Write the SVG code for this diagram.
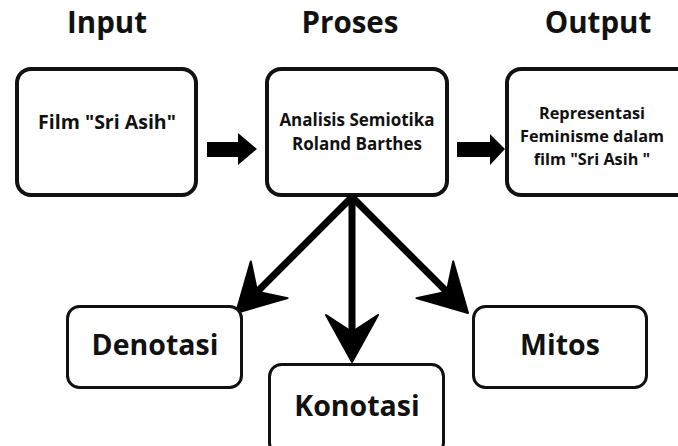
<svg xmlns="http://www.w3.org/2000/svg" width="678" height="446" viewBox="0 0 678 446">
<defs>
<style>
.title{font-family:"Open Sans","Liberation Sans",sans-serif;font-weight:700;font-size:29.5px;fill:#111;text-anchor:middle}
.box{fill:#fff;stroke:#111;stroke-width:4}
.sbox{fill:#fff;stroke:#111;stroke-width:3}
.t{font-family:"Open Sans","Liberation Sans",sans-serif;font-weight:700;fill:#111;text-anchor:middle}
.big{font-size:28.5px}
.conn{stroke:#000;stroke-width:7;fill:none}
.head{fill:#000;stroke:#000;stroke-width:2;stroke-linejoin:round}
</style>
<marker id="ah" markerUnits="userSpaceOnUse" viewBox="-50 -30 54 60" refX="-30" refY="0" markerWidth="54" markerHeight="60" orient="auto">
<path class="head" d="M0,0 L-47,-26 L-30,0 L-47,26 Z"/>
</marker>
</defs>
<rect width="678" height="446" fill="#fff"/>
<g id="titles">
<text class="title" x="107" y="33">Input</text>
<text class="title" x="350" y="33">Proses</text>
<text class="title" x="598" y="33">Output</text>
</g>
<g id="node-input">
<rect class="box" x="17" y="69" width="179" height="126" rx="14"/>
<text class="t" x="107" y="129" font-size="19.5">Film "Sri Asih"</text>
</g>
<g id="node-proses">
<rect class="box" x="267" y="69" width="180" height="126" rx="14"/>
<text class="t" x="357" y="126" font-size="17">Analisis Semiotika</text>
<text class="t" x="357" y="150" font-size="17">Roland Barthes</text>
</g>
<g id="node-output">
<rect class="box" x="507" y="69" width="200" height="126" rx="14"/>
<text class="t" x="592" y="119" font-size="16.3">Representasi</text>
<text class="t" x="592" y="142" font-size="16.3">Feminisme dalam</text>
<text class="t" x="592" y="165" font-size="16.3">film "Sri Asih "</text>
</g>
<g id="connectors">
<polygon fill="#000" points="207,142 238,142 238,133 257,149 238,165 238,157 207,157"/>
<polygon fill="#000" points="457,142 490,142 490,134 505,149 490,165 490,157 457,157"/>
<line class="conn" x1="352" y1="197" x2="257.2" y2="291.8" marker-end="url(#ah)"/>
<line class="conn" x1="352" y1="197" x2="352" y2="332" marker-end="url(#ah)"/>
<line class="conn" x1="352" y1="197" x2="446.8" y2="291.8" marker-end="url(#ah)"/>
</g>
<g id="node-denotasi">
<rect class="sbox" x="67.5" y="306.5" width="174" height="81" rx="12"/>
<text class="t big" x="155" y="355">Denotasi</text>
</g>
<g id="node-konotasi">
<rect class="sbox" x="269.5" y="364.5" width="174" height="90" rx="12"/>
<text class="t big" x="357" y="416">Konotasi</text>
</g>
<g id="node-mitos">
<rect class="sbox" x="473.5" y="306.5" width="173" height="81" rx="12"/>
<text class="t big" x="560" y="355">Mitos</text>
</g>
</svg>
